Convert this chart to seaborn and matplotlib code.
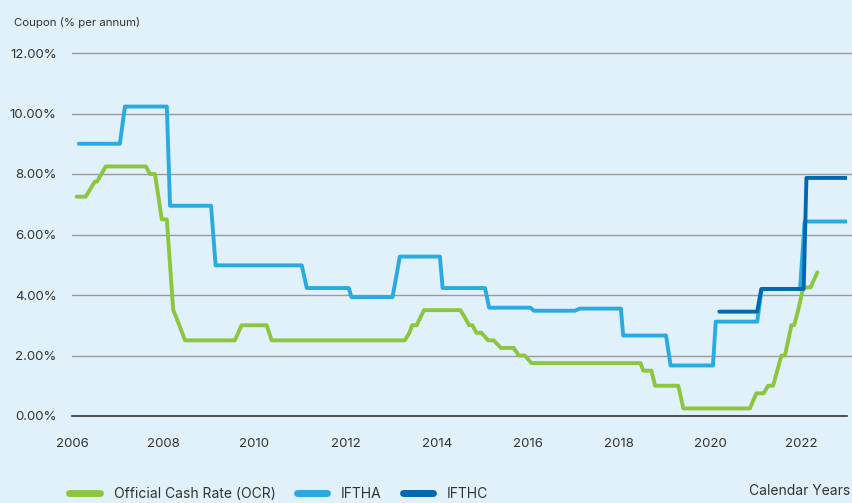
import matplotlib
matplotlib.use('Agg')
import matplotlib.pyplot as plt
import seaborn as sns

# Official Cash Rate (OCR)
ocr_x = [2006.10, 2006.30, 2006.50, 2006.55, 2006.74, 2007.62, 2007.71, 2007.82, 2007.97,
         2008.08, 2008.15, 2008.22, 2008.29, 2008.48, 2009.57, 2009.72, 2010.27, 2010.38,
         2013.30, 2013.40, 2013.46, 2013.56, 2013.72, 2014.52, 2014.62, 2014.71, 2014.78,
         2014.87, 2014.98, 2015.13, 2015.25, 2015.41, 2015.69, 2015.80, 2015.93, 2016.08,
         2018.47, 2018.53, 2018.71, 2018.79, 2019.30, 2019.41, 2020.87, 2020.94, 2021.01,
         2021.17, 2021.27, 2021.38, 2021.47, 2021.56, 2021.64, 2021.71, 2021.78, 2021.84,
         2021.93, 2022.04, 2022.20, 2022.35]
ocr_y = [7.25, 7.25, 7.75, 7.75, 8.25, 8.25, 8.00, 8.00, 6.50,
         6.50, 5.00, 3.50, 3.25, 2.50, 2.50, 3.00, 3.00, 2.50,
         2.50, 2.75, 3.00, 3.00, 3.50, 3.50, 3.25, 3.00, 3.00,
         2.75, 2.75, 2.50, 2.50, 2.25, 2.25, 2.00, 2.00, 1.75,
         1.75, 1.50, 1.50, 1.00, 1.00, 0.25, 0.25, 0.50, 0.75,
         0.75, 1.00, 1.00, 1.50, 2.00, 2.00, 2.50, 3.00, 3.00,
         3.50, 4.25, 4.25, 4.75]

# IFTHA
iftha_x = [2006.15, 2007.05, 2007.16, 2008.08, 2008.15, 2009.05, 2009.15, 2011.04, 2011.15,
           2012.07, 2012.13, 2013.03, 2013.10, 2013.19, 2014.07, 2014.13, 2015.06, 2015.15,
           2016.06, 2016.13, 2017.03, 2017.14, 2018.04, 2018.09, 2019.03, 2019.13, 2020.06,
           2020.12, 2021.03, 2021.13, 2021.97, 2022.07, 2022.99]
iftha_y = [9.00, 9.00, 10.23, 10.23, 6.95, 6.95, 4.98, 4.98, 4.23,
           4.23, 3.93, 3.93, 4.50, 5.27, 5.27, 4.23, 4.23, 3.58,
           3.58, 3.48, 3.48, 3.55, 3.55, 2.66, 2.66, 1.67, 1.67,
           3.12, 3.12, 4.20, 4.20, 6.43, 6.43]

# IFTHC
ifthc_x = [2020.20, 2021.03, 2021.12, 2022.05, 2022.11, 2022.99]
ifthc_y = [3.45, 3.45, 4.20, 4.20, 7.87, 7.87]

years = list(range(2006, 2024))
year_labels = [str(y) if y % 2 == 0 else '' for y in years]
pct_ticks = [0, 2, 4, 6, 8, 10, 12]

bg = '#E0F1FB'
green = '#8CC63F'
light = '#29ABE2'
dark = '#0368B0'
txt = '#333333'

sns.set_style('white')
plt.rcParams['font.family'] = ['Inter', 'DejaVu Sans']

fig = plt.figure(figsize=(8.52, 5.03), dpi=100, facecolor=bg)
ax = fig.add_axes([72 / 852, 87 / 503, 775 / 852, 363 / 503])
ax.set_facecolor(bg)

sns.lineplot(x=ocr_x, y=ocr_y, color=green, lw=2.8, sort=False, estimator=None, ax=ax,
             label='Official Cash Rate (OCR)')
sns.lineplot(x=iftha_x, y=iftha_y, color=light, lw=2.8, sort=False, estimator=None, ax=ax,
             label='IFTHA')
sns.lineplot(x=ifthc_x, y=ifthc_y, color=dark, lw=2.8, sort=False, estimator=None, ax=ax,
             label='IFTHC')

ax.set_xlim(2006, 2023)
ax.set_ylim(0, 12)
ax.set_xticks(years)
ax.set_xticklabels(year_labels)
ax.set_yticks(pct_ticks)
ax.set_yticklabels([f'{v:.2f}%' for v in pct_ticks])
for v in pct_ticks[1:]:
    ax.axhline(v, color='#9A9A9A', lw=1, zorder=0, xmax=1.01, clip_on=False)

for s in ['top', 'right', 'left']:
    ax.spines[s].set_visible(False)
ax.spines['bottom'].set_color(txt)
ax.spines['bottom'].set_linewidth(1.2)
ax.tick_params(axis='x', direction='out', length=6, width=1.2, color=txt,
               labelsize=9.5, labelcolor=txt, pad=10)
ax.tick_params(axis='y', length=0, labelsize=9.5, labelcolor=txt, pad=11)
ax.set_xlabel('')
ax.set_ylabel('')

fig.text(14 / 852, 1 - 22 / 503, 'Coupon (% per annum)', fontsize=8.2, color=txt, va='center')
fig.text(850 / 852, 1 - 491 / 503, 'Calendar Years', fontsize=10, color=txt,
         ha='right', va='center')

ax.get_legend().remove()
handles, labels = ax.get_legend_handles_labels()
leg = fig.legend(handles, labels, loc='center left', bbox_to_anchor=(57 / 852, 1 - 494 / 503),
                 ncol=3, frameon=False, fontsize=10, handlelength=2.2, columnspacing=1.5,
                 handletextpad=1.0, labelcolor=txt)
for line in leg.get_lines():
    line.set_linewidth(5)
    line.set_solid_capstyle('round')

fig.savefig('out.png', dpi=100, facecolor=bg)
